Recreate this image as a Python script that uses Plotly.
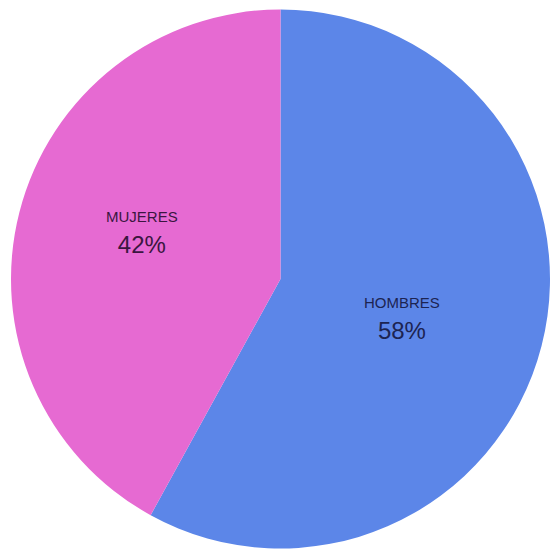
import math
import plotly.graph_objects as go

# Distribución por sexo
labels = ["HOMBRES", "MUJERES"]
values = [58, 42]
colors = ["#5C86E8", "#E66AD2"]
text_colors = ["#1C2452", "#3A1640"]

W, H = 550, 553
dom_x = [11 / W, 1.0]
dom_y = [1 - 549 / H, 1 - 9 / H]

fig = go.Figure(
    go.Pie(
        labels=labels,
        values=values,
        sort=False,
        direction="clockwise",
        rotation=0,
        marker=dict(colors=colors, line=dict(width=0)),
        textinfo="none",
        domain=dict(x=dom_x, y=dom_y),
        showlegend=False,
        hoverinfo="label+percent",
    )
)

# Slice labels placed along each slice's bisector
cx = (dom_x[0] + dom_x[1]) / 2 * W
cy = (1 - (dom_y[0] + dom_y[1]) / 2) * H
r = min((dom_x[1] - dom_x[0]) * W, (dom_y[1] - dom_y[0]) * H) / 2
radial = [0.475, 0.54]
total = sum(values)
start = 0.0
for lab, val, tc, frac in zip(labels, values, text_colors, radial):
    ang = math.radians((start + val / 2) / total * 360 + 4)
    start += val
    px = cx + frac * r * math.sin(ang)
    py = cy - frac * r * math.cos(ang)
    fig.add_annotation(
        x=px / W,
        y=1 - py / H,
        xref="paper",
        yref="paper",
        text=f"<span style='font-size:15px'>{lab}</span><br>{val / total:.0%}",
        showarrow=False,
        font=dict(family="Liberation Sans, Arial, sans-serif", size=24, color=tc),
        align="center",
        xanchor="center",
        yanchor="middle",
    )

fig.update_layout(
    width=W,
    height=H,
    margin=dict(l=0, r=0, t=0, b=0),
    paper_bgcolor="white",
    plot_bgcolor="white",
)

fig.write_html("out.html")
